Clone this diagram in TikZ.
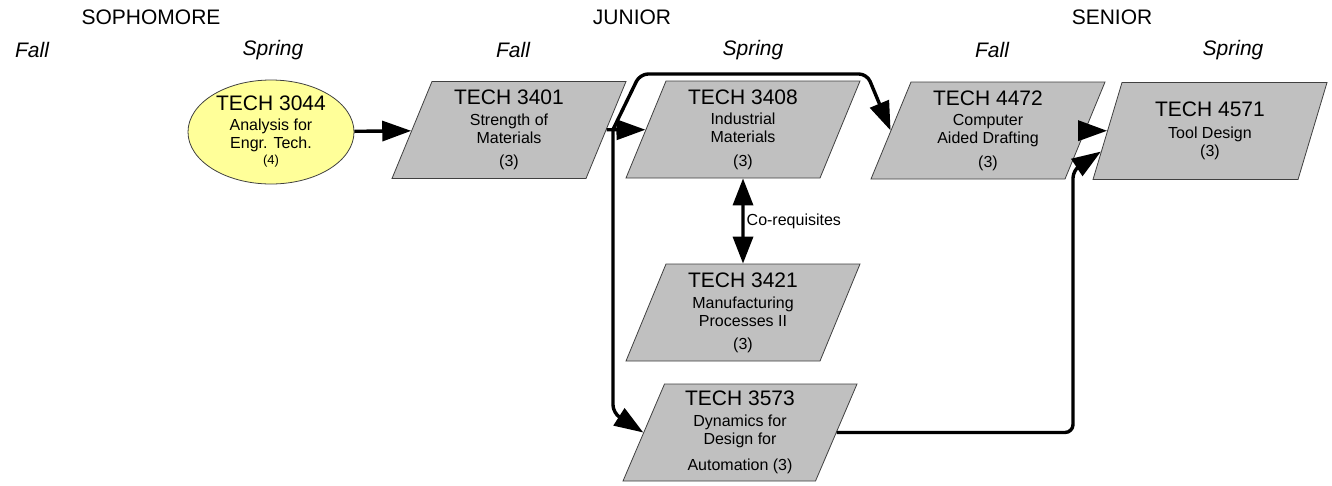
\documentclass[tikz,border=0pt]{standalone}
\usepackage{fontspec}
\setmainfont{Liberation Sans}
\usetikzlibrary{shapes.geometric,arrows.meta,calc}
\definecolor{boxgray}{HTML}{C0C0C0}
\definecolor{ovalyellow}{HTML}{FFFF99}
\newcommand{\bigtech}[1]{{\fontsize{21}{21}\selectfont #1}}
\begin{document}
\begin{tikzpicture}[x=1pt,y=-1pt,
  course/.style={trapezium, trapezium left angle=63.43, trapezium right angle=116.57,
    trapezium stretches body, minimum width=234pt, minimum height=97pt, inner sep=0pt,
    fill=boxgray, draw=black!75, line width=0.8pt, align=center,
    font=\fontsize{16}{18}\selectfont},
  oval/.style={ellipse, minimum width=166pt, minimum height=104pt, inner sep=0pt,
    fill=ovalyellow, draw=black!75, line width=0.8pt, align=center,
    font=\fontsize{16}{18}\selectfont},
  yearlabel/.style={font=\fontsize{21}{21}\selectfont, inner sep=0pt},
  termlabel/.style={font=\fontsize{21}{21}\selectfont\itshape, inner sep=0pt},
  arr/.style={line width=3.4pt, line join=round, rounded corners=8pt,
    -{Triangle[length=29pt,width=20pt]}},
  darr/.style={line width=3.4pt, {Triangle[length=27pt,width=20pt]}-{Triangle[length=27pt,width=20pt]}},
  notelabel/.style={font=\fontsize{16}{16}\selectfont, inner sep=0pt, anchor=west}
]
\useasboundingbox (0,0) rectangle (1332,485);

% headings
\node[yearlabel] (soph) at (151,17) {SOPHOMORE};
\node[yearlabel] (jun) at (632,17) {JUNIOR};
\node[yearlabel] (sen) at (1112,17) {SENIOR};
\node[termlabel] (t1) at (32,50) {Fall};
\node[termlabel] (t2) at (273,50) {Spring};
\node[termlabel] (t3) at (513,50) {Fall};
\node[termlabel] (t4) at (753,50) {Spring};
\node[termlabel] (t5) at (992,50) {Fall};
\node[termlabel] (t6) at (1233,50) {Spring};

% courses
\node[oval] (e3044) at (271,132) {\bigtech{TECH 3044}\\[2pt]Analysis for\\Engr. Tech.\\[-2pt]{\fontsize{13}{13}\selectfont (4)}};
\node[course] (p3401) at (509,130) {\bigtech{TECH 3401}\\[3pt]Strength of\\Materials\\[5pt](3)};
\node[course] (p3408) at (743,129.5) {\bigtech{TECH 3408}\\[2pt]Industrial\\Materials\\[6pt](3)};
\node[course] (p4472) at (988,130.5) {\bigtech{TECH 4472}\\[2pt]Computer\\Aided Drafting\\[6pt](3)};
\node[course] (p4571) at (1210,131) {\bigtech{TECH 4571}\\[4pt]Tool Design\\(3)};
\node[course] (p3421) at (743,312.5) {\bigtech{TECH 3421}\\[3pt]Manufacturing\\Processes II\\[5pt](3)};
\node[course] (p3573) at (740,432.5) {\bigtech{TECH 3573}\\[3pt]Dynamics for\\Design for\\[8pt]Automation (3)};

% connectors
\coordinate (j) at (613,129.5);
\coordinate (c4571) at ($(p4571.bottom left corner)!0.29!(p4571.top left corner)$);
\draw[arr] (e3044) -- (p3401);
\draw[arr] (p3401) -- (p3408);
\draw[arr] (j) -- (640,74) -- (867,74) -- (p4472.left side);
\draw[arr] (j) -- (613,413) -- (p3573.left side);
\draw[darr] (p3408) -- (p3421) node[notelabel, pos=0.5, xshift=2pt] {Co-requisites};
\draw[arr] (p4472) -- (p4571);
\draw[arr] (p3573.right side) -- (1073,432.5) -- (1073,170) -- (c4571);
\end{tikzpicture}
\end{document}
